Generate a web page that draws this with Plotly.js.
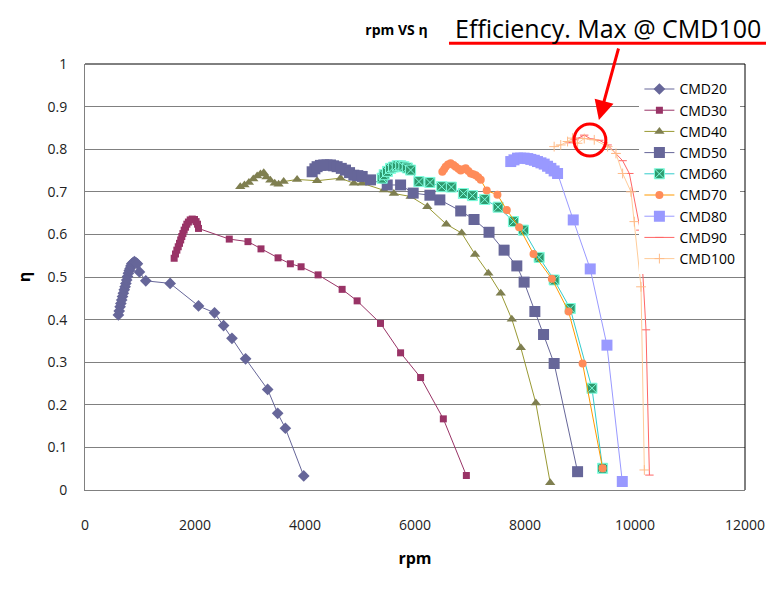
<!DOCTYPE html>
<html>
<head>
<meta charset="utf-8">
<script src="https://cdn.plot.ly/plotly-3.0.1.min.js"></script>
<style>
  html, body { margin: 0; padding: 0; background: #fff; }
  #grafica { width: 782px; height: 589px; }
</style>
</head>
<body>
<div id="grafica"></div>
<script>
// rpm / efficiency, one pair of arrays per CMD series
const rpm20 = [607, 622, 638, 652, 667, 682, 697, 713, 729, 743, 758, 773, 789, 805, 820, 835, 850, 875, 898, 925, 953, 990, 1105, 1548, 2064, 2355, 2520, 2672, 2920, 3321, 3503, 3643, 3977];
const eta20 = [0.411, 0.420, 0.430, 0.438, 0.446, 0.454, 0.462, 0.470, 0.477, 0.485, 0.493, 0.501, 0.509, 0.515, 0.520, 0.526, 0.531, 0.534, 0.536, 0.534, 0.531, 0.512, 0.491, 0.485, 0.432, 0.416, 0.386, 0.356, 0.308, 0.236, 0.180, 0.145, 0.033];

const rpm30 = [1621, 1645, 1670, 1695, 1718, 1740, 1760, 1780, 1803, 1828, 1852, 1880, 1913, 1950, 1991, 2020, 2046, 2064, 2623, 2963, 3200, 3510, 3734, 3929, 4238, 4675, 4948, 5373, 5738, 6102, 6515, 6934];
const eta30 = [0.544, 0.554, 0.563, 0.571, 0.579, 0.587, 0.595, 0.602, 0.610, 0.617, 0.624, 0.629, 0.634, 0.636, 0.635, 0.630, 0.624, 0.614, 0.589, 0.583, 0.566, 0.545, 0.531, 0.524, 0.505, 0.471, 0.444, 0.391, 0.322, 0.264, 0.167, 0.034];

const rpm40 = [2823, 2900, 2980, 3060, 3130, 3190, 3250, 3300, 3370, 3450, 3520, 3612, 3856, 4220, 4645, 4888, 5040, 5434, 5616, 5920, 6224, 6569, 6849, 7092, 7334, 7559, 7760, 7924, 8197, 8458];
const eta40 = [0.712, 0.716, 0.722, 0.730, 0.737, 0.742, 0.745, 0.735, 0.727, 0.720, 0.718, 0.724, 0.729, 0.726, 0.732, 0.720, 0.720, 0.704, 0.696, 0.689, 0.665, 0.624, 0.603, 0.553, 0.509, 0.462, 0.401, 0.334, 0.204, 0.017];

const rpm50 = [4130, 4180, 4220, 4280, 4341, 4400, 4463, 4520, 4584, 4660, 4736, 4810, 4888, 4960, 5040, 5191, 5495, 5738, 5967, 6271, 6452, 6831, 7073, 7346, 7620, 7851, 7984, 8179, 8337, 8530, 8956];
const eta50 = [0.747, 0.754, 0.759, 0.762, 0.763, 0.763, 0.763, 0.761, 0.759, 0.755, 0.751, 0.745, 0.739, 0.738, 0.736, 0.728, 0.716, 0.716, 0.697, 0.692, 0.681, 0.655, 0.635, 0.605, 0.563, 0.526, 0.488, 0.419, 0.365, 0.297, 0.043];

const rpm60 = [5403, 5440, 5500, 5555, 5610, 5677, 5740, 5798, 5860, 5920, 6071, 6271, 6485, 6661, 6880, 7043, 7268, 7510, 7789, 7972, 8257, 8530, 8822, 9217, 9411];
const eta60 = [0.732, 0.740, 0.748, 0.755, 0.758, 0.761, 0.761, 0.759, 0.756, 0.751, 0.724, 0.722, 0.712, 0.711, 0.696, 0.691, 0.682, 0.664, 0.630, 0.610, 0.546, 0.493, 0.426, 0.239, 0.051];

const rpm70 = [6497, 6530, 6557, 6600, 6648, 6700, 6739, 6790, 6831, 6880, 6922, 6970, 7013, 7060, 7104, 7150, 7195, 7304, 7499, 7669, 7893, 8155, 8488, 8792, 9047, 9411];
const eta70 = [0.747, 0.753, 0.759, 0.764, 0.767, 0.763, 0.759, 0.754, 0.750, 0.753, 0.755, 0.749, 0.743, 0.741, 0.739, 0.734, 0.728, 0.703, 0.693, 0.657, 0.617, 0.554, 0.496, 0.419, 0.297, 0.051];

const rpm80 = [7741, 7800, 7863, 7920, 7984, 8050, 8106, 8170, 8227, 8290, 8349, 8410, 8470, 8530, 8592, 8877, 9186, 9490, 9769];
const eta80 = [0.771, 0.775, 0.779, 0.779, 0.779, 0.778, 0.776, 0.774, 0.771, 0.768, 0.765, 0.760, 0.755, 0.749, 0.743, 0.634, 0.519, 0.340, 0.020];

const rpm90 = [8800, 8900, 8980, 9077, 9198, 9350, 9502, 9654, 9775, 9897, 10097, 10200, 10262];
const eta90 = [0.815, 0.822, 0.826, 0.833, 0.824, 0.821, 0.810, 0.790, 0.773, 0.743, 0.610, 0.376, 0.035];

const rpm100 = [8530, 8650, 8774, 8865, 8956, 9077, 9259, 9502, 9654, 9775, 9927, 9988, 10109, 10170];
const eta100 = [0.806, 0.810, 0.818, 0.826, 0.814, 0.825, 0.822, 0.806, 0.790, 0.743, 0.700, 0.630, 0.477, 0.047];

const nombres = ['CMD20', 'CMD30', 'CMD40', 'CMD50', 'CMD60', 'CMD70', 'CMD80', 'CMD90', 'CMD100'];
const ejeX = [rpm20, rpm30, rpm40, rpm50, rpm60, rpm70, rpm80, rpm90, rpm100];
const ejeY = [eta20, eta30, eta40, eta50, eta60, eta70, eta80, eta90, eta100];

// marker look for each series (Excel 2003 style)
const estilos = [
  { linea: '#666699', color: '#666699', simbolo: 'diamond', tam: 9 },
  { linea: '#993366', color: '#993366', simbolo: 'square', tam: 7 },
  { linea: '#999933', color: '#7f7f50', simbolo: 'triangle-up', tam: 9 },
  { linea: '#666699', color: '#666699', simbolo: 'square', tam: 11 },
  { linea: '#33cccc', color: '#2e9a6e', simbolo: 'square-x', tam: 10, borde: '#7fffe0' },
  { linea: '#ff9900', color: '#ff8c5a', simbolo: 'circle', tam: 8 },
  { linea: '#9999ff', color: '#9999ff', simbolo: 'square', tam: 11 },
  { linea: '#ff6666', color: '#ff6666', simbolo: 'line-ew', tam: 6, borde: '#ff6666' },
  { linea: '#ffcc99', color: '#ffbb88', simbolo: 'cross-thin', tam: 7, borde: '#ffbb88' }
];

const fuente = 'Open Sans, DejaVu Sans, sans-serif';

const trazas = nombres.map((nombre, i) => {
  const e = estilos[i];
  return {
    x: ejeX[i],
    y: ejeY[i],
    name: nombre,
    type: 'scatter',
    mode: 'lines+markers',
    line: { color: e.linea, width: 1 },
    marker: {
      symbol: e.simbolo,
      size: e.tam,
      color: e.color,
      line: { color: e.borde || e.color, width: e.borde ? 1 : 0 }
    }
  };
});

const layout = {
  width: 782,
  height: 589,
  paper_bgcolor: '#fff',
  plot_bgcolor: '#fff',
  margin: { l: 85, r: 37, t: 64, b: 99 },
  font: { family: fuente, color: '#000', size: 14 },
  showlegend: true,
  title: {
    text: '<b>rpm VS η</b>',
    font: { family: fuente, size: 14, color: '#000' },
    x: 0.507, xanchor: 'center',
    y: 1 - 30 / 589, yanchor: 'middle'
  },
  xaxis: {
    range: [0, 12000],
    dtick: 2000,
    tickformat: 'd',
    showgrid: false,
    zeroline: false,
    showline: true,
    linecolor: '#808080',
    linewidth: 1,
    ticks: 'outside',
    ticklen: 22,
    tickcolor: 'rgba(0,0,0,0)',
    tickfont: { size: 14, color: '#222' },
    title: { text: '<b>rpm</b>', font: { size: 16, color: '#000' }, standoff: 20 }
  },
  yaxis: {
    range: [0, 1],
    dtick: 0.1,
    showgrid: true,
    gridcolor: '#808080',
    gridwidth: 1,
    zeroline: false,
    showline: true,
    linecolor: '#808080',
    linewidth: 1,
    ticks: 'outside',
    ticklen: 14,
    tickcolor: 'rgba(0,0,0,0)',
    tickfont: { size: 14, color: '#222' },
    title: { text: '<b>η</b>', font: { size: 16, color: '#000' }, standoff: 12 }
  },
  legend: {
    x: 0.84, xanchor: 'left',
    y: 0.742, yanchor: 'middle',
    bgcolor: '#fff',
    borderwidth: 0,
    font: { size: 14, color: '#000' },
    itemwidth: 30
  },
  shapes: [
    // black frame on top and right of the plot area
    { type: 'line', xref: 'paper', yref: 'paper', x0: 0, x1: 1, y0: 1, y1: 1, line: { color: '#000', width: 1 } },
    { type: 'line', xref: 'paper', yref: 'paper', x0: 1, x1: 1, y0: 0, y1: 1, line: { color: '#000', width: 1 } },
    // red underline of the callout
    { type: 'line', xref: 'paper', yref: 'paper', x0: 0.5515, x1: 1.0318, y0: 1.049, y1: 1.049, line: { color: '#ff0000', width: 3 } },
    // circle around the maximum
    { type: 'circle', xref: 'x', yref: 'y', x0: 8890, x1: 9470, y0: 0.784, y1: 0.859, line: { color: '#ff0000', width: 3 } }
  ],
  annotations: [
    {
      xref: 'paper', yref: 'paper',
      x: 0.792, y: 1.0845, xanchor: 'center', yanchor: 'middle',
      text: 'Efficiency. Max @ CMD100',
      showarrow: false,
      font: { family: fuente, size: 25, color: '#000' }
    },
    {
      xref: 'x', yref: 'y',
      x: 9344, y: 0.8685,
      ax: 20, ay: -73,
      text: '',
      showarrow: true,
      arrowhead: 2,
      arrowsize: 1.3,
      arrowwidth: 3,
      arrowcolor: '#ff0000'
    }
  ]
};

Plotly.newPlot('grafica', trazas, layout, { displayModeBar: false, staticPlot: true });
</script>
</body>
</html>
